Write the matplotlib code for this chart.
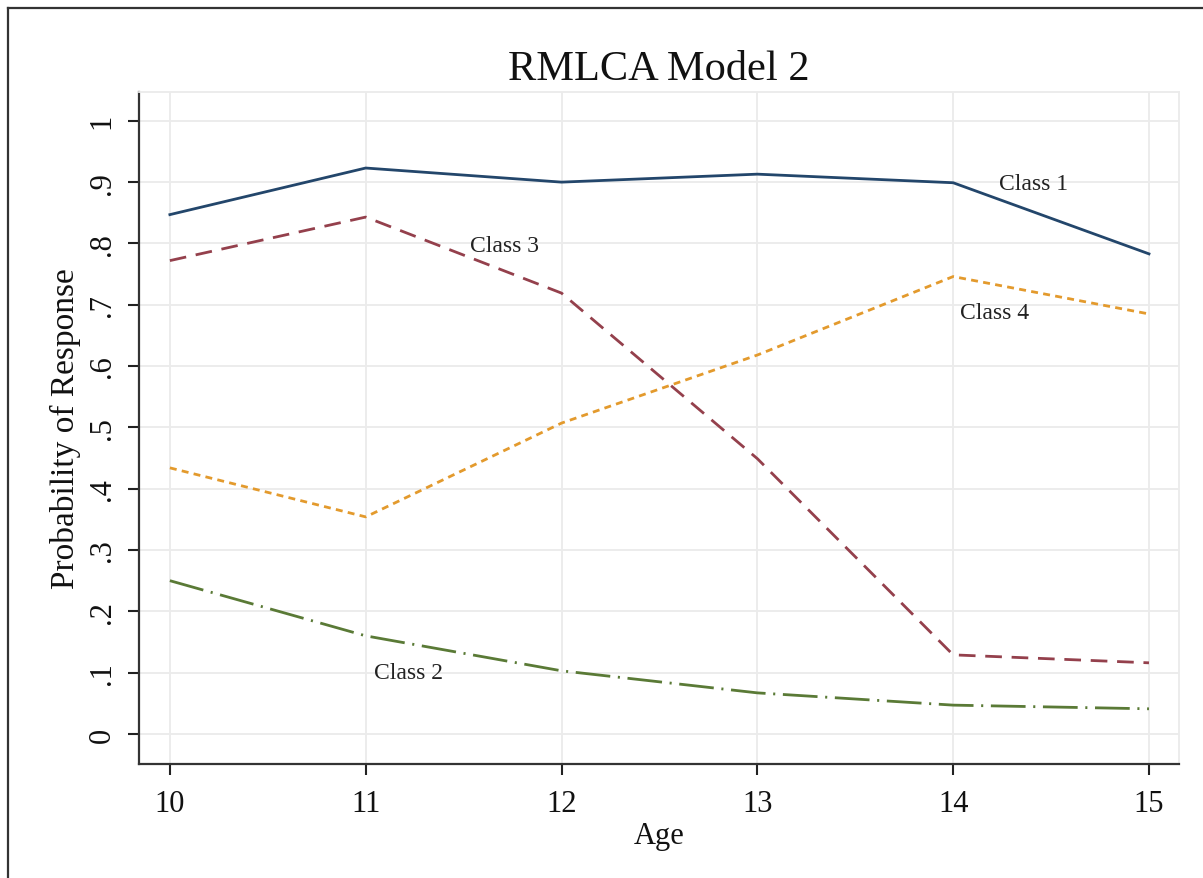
import numpy as np
import matplotlib.pyplot as plt
from matplotlib.lines import Line2D

plt.rcParams["font.family"] = ["Liberation Serif", "DejaVu Serif"]
plt.rcParams["lines.scale_dashes"] = False

ages = [10, 11, 12, 13, 14, 15]
class1 = [0.847, 0.923, 0.900, 0.913, 0.899, 0.783]
class2 = [0.250, 0.160, 0.103, 0.067, 0.047, 0.041]
class3 = [0.772, 0.843, 0.719, 0.449, 0.129, 0.116]
class4 = [0.434, 0.354, 0.507, 0.618, 0.746, 0.685]

y_ticks = [0, 0.1, 0.2, 0.3, 0.4, 0.5, 0.6, 0.7, 0.8, 0.9, 1.0]
y_tick_labels = ["0", ".1", ".2", ".3", ".4", ".5", ".6", ".7", ".8", ".9", "1"]

# label text and where it sits (age, probability)
class_labels = ["Class 1", "Class 2", "Class 3", "Class 4"]
label_pos = [(14.41, 0.897), (11.22, 0.100), (11.71, 0.796), (14.21, 0.688)]

fig = plt.figure(figsize=(12.03, 8.79), dpi=100)
ax = fig.add_axes([0.1155, 0.1297, 0.8645, 0.7645])

lw = 2.0
ax.plot(ages, class1, color="#23466b", lw=lw, solid_joinstyle="miter")
ax.plot(ages, class3, color="#94404c", lw=lw, dashes=(12, 7))
ax.plot(ages, class4, color="#e39a2d", lw=lw, dashes=(5, 3.8))
ax.plot(ages, class2, color="#5a7a36", lw=lw, dashes=(25, 5.5, 1.5, 5.5))

for txt, (x, y) in zip(class_labels, label_pos):
    ax.text(x, y, txt, fontsize=17, ha="center", va="center", color="#222222")

ax.set_xlim(9.842, 15.153)
ax.set_ylim(-0.049, 1.047)
ax.set_xticks(ages)
ax.set_yticks(y_ticks)
ax.set_yticklabels(y_tick_labels, rotation=90, va="center")

ax.grid(True, color="#ebebeb", lw=1.3)
ax.set_axisbelow(True)

for s in ["left", "bottom"]:
    ax.spines[s].set_color("#333333")
    ax.spines[s].set_linewidth(1.6)
for s in ["top", "right"]:
    ax.spines[s].set_color("#ebebeb")
    ax.spines[s].set_linewidth(1.3)

ax.tick_params(axis="both", length=8, width=1.5, color="#222222",
               labelsize=22, labelcolor="#111111")
ax.tick_params(axis="x", pad=10)
ax.tick_params(axis="y", pad=8)

ax.set_xlabel("Age", fontsize=22, labelpad=2, color="#111111")
ax.set_ylabel("Probability of Response", fontsize=24, labelpad=5, color="#111111")
ax.set_title("RMLCA Model 2", fontsize=30.5, pad=9, color="#111111")

# outer graph frame (top and left edges visible)
fig.add_artist(Line2D([8 / 1203, 8 / 1203], [0, 1 - 9 / 879], transform=fig.transFigure,
                      color="#333333", lw=1.6))
fig.add_artist(Line2D([8 / 1203, 1], [1 - 9 / 879, 1 - 9 / 879], transform=fig.transFigure,
                      color="#333333", lw=1.6))

fig.savefig("out.png", dpi=100)
